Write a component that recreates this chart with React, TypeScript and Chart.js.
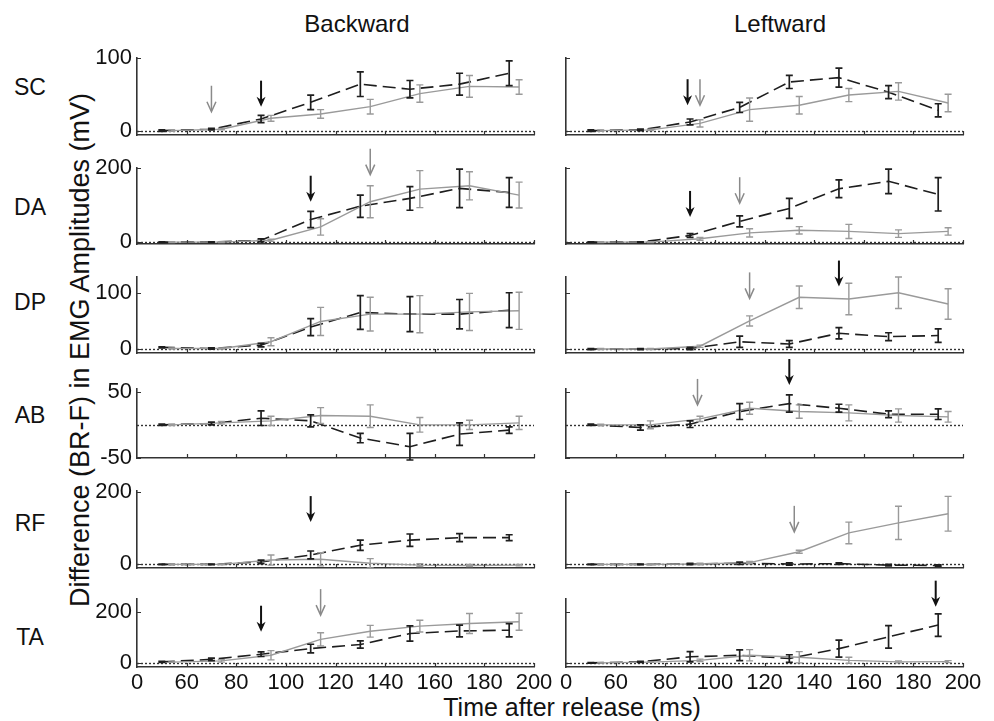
import React, { useEffect, useRef } from "react";
import { Chart, registerables } from "chart.js";

Chart.register(...registerables);

// ---------- data ----------
const blackTimes = [50, 70, 90, 110, 130, 150, 170, 190];
const grayTimes = [54, 74, 94, 114, 134, 154, 174, 194];
const xTickValues = [40, 60, 80, 100, 120, 140, 160, 180, 200];
const xTickLabels = ["0", "60", "80", "100", "120", "140", "160", "180", "200"];
const muscleLabels = ["SC", "DA", "DP", "AB", "RF", "TA"];
const columnTitles = ["Backward", "Leftward"];
const yAxisTitle = "Difference (BR-F) in EMG Amplitudes (mV)";
const xAxisTitle = "Time after release (ms)";

const yMins = [-6, -5, -7, -50, -10, -16];
const yMaxs = [100, 200, 128, 54, 203, 250];
const yTickValues = [[0, 100], [0, 200], [0, 100], [-50, 50], [0, 200], [0, 200]];

// Backward column
const scBackBlack = [0, 2, 16, 39, 64, 57, 64, 79];
const scBackBlackErr = [1, 1, 5, 10, 17, 12, 15, 17];
const scBackGray = [0, 2, 17, 23, 33, 51, 61, 60];
const scBackGrayErr = [1, 1, 4, 6, 10, 12, 15, 10];
const scBackArrowBlack = [90, 33];
const scBackArrowGray = [70, 26];

const daBackBlack = [0, 0, 5, 61, 97, 118, 145, 134];
const daBackBlackErr = [1, 1, 4, 22, 30, 32, 52, 40];
const daBackGray = [0, 0, 5, 41, 109, 143, 152, 127];
const daBackGrayErr = [1, 1, 3, 22, 43, 50, 38, 35];
const daBackArrowBlack = [110, 109];
const daBackArrowGray = [134, 182];

const dpBackBlack = [3, 1, 7, 39, 65, 62, 62, 69];
const dpBackBlackErr = [1, 1, 3, 15, 30, 31, 26, 31];
const dpBackGray = [1, 1, 13, 49, 62, 62, 66, 68];
const dpBackGrayErr = [1, 1, 7, 25, 30, 33, 33, 33];

const abBackBlack = [0, 2, 10, 6, -20, -33, -14, -8];
const abBackBlackErr = [1, 2, 11, 9, 7, 20, 17, 5];
const abBackGray = [0, 3, 6, 14, 13, 0, 0, 3];
const abBackGrayErr = [1, 2, 7, 12, 17, 11, 7, 10];

const rfBackBlack = [0, 0, 7, 26, 53, 67, 74, 74];
const rfBackBlackErr = [1, 1, 5, 11, 14, 17, 11, 8];
const rfBackGray = [0, 0, 12, 14, 3, -2, -3, -2];
const rfBackGrayErr = [1, 1, 14, 18, 13, 4, 3, 2];
const rfBackArrowBlack = [110, 117];

const taBackBlack = [4, 14, 34, 56, 72, 115, 125, 128];
const taBackBlackErr = [2, 5, 9, 17, 14, 30, 23, 26];
const taBackGray = [3, 8, 30, 92, 124, 144, 154, 161];
const taBackGrayErr = [1, 5, 18, 26, 23, 23, 39, 33];
const taBackArrowBlack = [90, 122];
const taBackArrowGray = [114, 187];

// Leftward column
const scLeftBlack = [0, 1, 12, 32, 67, 73, 53, 28];
const scLeftBlackErr = [1, 1, 4, 7, 9, 13, 9, 9];
const scLeftGray = [0, 1, 10, 29, 35, 49, 54, 38];
const scLeftGrayErr = [1, 1, 5, 16, 12, 9, 12, 12];
const scLeftArrowBlack = [89, 35];
const scLeftArrowGray = [94, 35];

const daLeftBlack = [0, 0, 18, 56, 91, 144, 164, 129];
const daLeftBlackErr = [1, 1, 5, 15, 27, 24, 33, 45];
const daLeftGray = [0, 0, 9, 25, 32, 29, 23, 29];
const daLeftGrayErr = [1, 1, 4, 11, 10, 19, 10, 10];
const daLeftArrowBlack = [90, 68];
const daLeftArrowGray = [110, 105];

const dpLeftBlack = [0, 0, 1, 13, 9, 28, 22, 24];
const dpLeftBlackErr = [1, 1, 2, 10, 6, 10, 7, 12];
const dpLeftGray = [0, 0, 5, 50, 92, 89, 100, 80];
const dpLeftGrayErr = [1, 1, 2, 9, 20, 28, 28, 27];
const dpLeftArrowBlack = [150, 111];
const dpLeftArrowGray = [114, 90];

const abLeftBlack = [0, -4, 1, 20, 32, 25, 16, 16];
const abLeftBlackErr = [1, 4, 5, 12, 13, 6, 5, 8];
const abLeftGray = [0, 0, 9, 25, 20, 18, 14, 12];
const abLeftGrayErr = [1, 6, 4, 9, 10, 12, 10, 8];
const abLeftArrowBlack = [130, 60];
const abLeftArrowGray = [93, 30];

const rfLeftBlack = [0, 0, 1, 3, 1, 2, -2, -3];
const rfLeftBlackErr = [1, 1, 2, 3, 3, 2, 2, 2];
const rfLeftGray = [0, 0, 1, 5, 35, 87, 115, 140];
const rfLeftGrayErr = [1, 1, 2, 3, 4, 30, 46, 48];
const rfLeftArrowGray = [132, 90];

const taLeftBlack = [0, 4, 24, 30, 17, 56, 102, 148];
const taLeftBlackErr = [1, 2, 20, 21, 15, 33, 44, 44];
const taLeftGray = [0, 3, 10, 30, 22, 10, 4, 5];
const taLeftGrayErr = [1, 1, 5, 22, 22, 12, 4, 4];
const taLeftArrowBlack = [189, 220];

// ---------- layout & style ----------
const FONT = '"Liberation Sans", Arial, Helvetica, sans-serif';
const PLOT_LEFT = [137, 566];
const PLOT_WIDTH = 397;
const PLOT_TOP = [58, 168, 277, 389, 491, 599];
const PLOT_BOTTOM = [135, 244, 353, 458, 568, 667];
const PADL = 60;
const PADR = 26;
const PADT = 44;
const PADB = 40;
const BLACK = "#1e1e1e";
const GRAY = "#9a9a9a";
const AXIS = "#333333";
const ARROW_LEN = 26;

type PanelDef = {
  col: number;
  row: number;
  black: number[];
  blackErr: number[];
  gray: number[];
  grayErr: number[];
  arrowBlack: number[] | null;
  arrowGray: number[] | null;
};

const panels: PanelDef[] = [
  { col: 0, row: 0, black: scBackBlack, blackErr: scBackBlackErr, gray: scBackGray, grayErr: scBackGrayErr, arrowBlack: scBackArrowBlack, arrowGray: scBackArrowGray },
  { col: 0, row: 1, black: daBackBlack, blackErr: daBackBlackErr, gray: daBackGray, grayErr: daBackGrayErr, arrowBlack: daBackArrowBlack, arrowGray: daBackArrowGray },
  { col: 0, row: 2, black: dpBackBlack, blackErr: dpBackBlackErr, gray: dpBackGray, grayErr: dpBackGrayErr, arrowBlack: null, arrowGray: null },
  { col: 0, row: 3, black: abBackBlack, blackErr: abBackBlackErr, gray: abBackGray, grayErr: abBackGrayErr, arrowBlack: null, arrowGray: null },
  { col: 0, row: 4, black: rfBackBlack, blackErr: rfBackBlackErr, gray: rfBackGray, grayErr: rfBackGrayErr, arrowBlack: rfBackArrowBlack, arrowGray: null },
  { col: 0, row: 5, black: taBackBlack, blackErr: taBackBlackErr, gray: taBackGray, grayErr: taBackGrayErr, arrowBlack: taBackArrowBlack, arrowGray: taBackArrowGray },
  { col: 1, row: 0, black: scLeftBlack, blackErr: scLeftBlackErr, gray: scLeftGray, grayErr: scLeftGrayErr, arrowBlack: scLeftArrowBlack, arrowGray: scLeftArrowGray },
  { col: 1, row: 1, black: daLeftBlack, blackErr: daLeftBlackErr, gray: daLeftGray, grayErr: daLeftGrayErr, arrowBlack: daLeftArrowBlack, arrowGray: daLeftArrowGray },
  { col: 1, row: 2, black: dpLeftBlack, blackErr: dpLeftBlackErr, gray: dpLeftGray, grayErr: dpLeftGrayErr, arrowBlack: dpLeftArrowBlack, arrowGray: dpLeftArrowGray },
  { col: 1, row: 3, black: abLeftBlack, blackErr: abLeftBlackErr, gray: abLeftGray, grayErr: abLeftGrayErr, arrowBlack: abLeftArrowBlack, arrowGray: abLeftArrowGray },
  { col: 1, row: 4, black: rfLeftBlack, blackErr: rfLeftBlackErr, gray: rfLeftGray, grayErr: rfLeftGrayErr, arrowBlack: null, arrowGray: rfLeftArrowGray },
  { col: 1, row: 5, black: taLeftBlack, blackErr: taLeftBlackErr, gray: taLeftGray, grayErr: taLeftGrayErr, arrowBlack: taLeftArrowBlack, arrowGray: null },
];

const decorPlugin = {
  id: "decor",
  beforeDatasetsDraw(chart: any) {
    const { ctx, chartArea, scales } = chart;
    const y = scales.y;
    const y0 = Math.round(y.getPixelForValue(0)) + 0.5;
    ctx.save();
    ctx.setLineDash([2, 2]);
    ctx.strokeStyle = "#333";
    ctx.lineWidth = 1.4;
    ctx.beginPath();
    ctx.moveTo(chartArea.left, y0);
    ctx.lineTo(chartArea.right, y0);
    ctx.stroke();
    ctx.restore();
  },
  afterDatasetsDraw(chart: any) {
    const { ctx, chartArea, scales } = chart;
    const x = scales.x;
    const y = scales.y;
    const cfg = chart.options.plugins.decor;
    ctx.save();
    ctx.setLineDash([]);
    // error bars
    chart.data.datasets.forEach((ds: any) => {
      ctx.strokeStyle = ds.borderColor;
      ctx.lineWidth = ds.errWidth;
      ds.data.forEach((pt: any, j: number) => {
        const e = ds.errors[j];
        const px = x.getPixelForValue(pt.x);
        const top = y.getPixelForValue(pt.y + e);
        const bot = y.getPixelForValue(pt.y - e);
        ctx.beginPath();
        ctx.moveTo(px, top);
        ctx.lineTo(px, bot);
        ctx.moveTo(px - 3.5, top);
        ctx.lineTo(px + 3.5, top);
        ctx.moveTo(px - 3.5, bot);
        ctx.lineTo(px + 3.5, bot);
        ctx.stroke();
      });
    });
    // inward tick marks
    ctx.strokeStyle = AXIS;
    ctx.lineWidth = 1.2;
    ctx.beginPath();
    xTickValues.forEach((v) => {
      if (v === 40) return;
      const px = Math.round(x.getPixelForValue(v)) + 0.5;
      ctx.moveTo(px, chartArea.bottom);
      ctx.lineTo(px, chartArea.bottom - 4);
    });
    cfg.yTicks.forEach((v: number) => {
      const py = Math.round(y.getPixelForValue(v)) + 0.5;
      ctx.moveTo(chartArea.left, py);
      ctx.lineTo(chartArea.left + 4, py);
    });
    ctx.stroke();
    // arrows
    const drawArrow = (a: number[] | null, color: string, filled: boolean) => {
      if (!a) return;
      const px = x.getPixelForValue(a[0]);
      const tip = y.getPixelForValue(a[1]);
      ctx.strokeStyle = color;
      ctx.fillStyle = color;
      ctx.lineWidth = filled ? 2 : 1.5;
      ctx.beginPath();
      ctx.moveTo(px, tip - ARROW_LEN);
      ctx.lineTo(px, tip - (filled ? 6 : 1));
      ctx.stroke();
      if (filled) {
        ctx.beginPath();
        ctx.moveTo(px - 4.5, tip - 10);
        ctx.lineTo(px, tip);
        ctx.lineTo(px + 4.5, tip - 10);
        ctx.lineTo(px, tip - 7);
        ctx.closePath();
        ctx.fill();
      } else {
        ctx.beginPath();
        ctx.moveTo(px - 4.5, tip - 10);
        ctx.lineTo(px, tip);
        ctx.lineTo(px + 4.5, tip - 10);
        ctx.stroke();
      }
    };
    drawArrow(cfg.arrowGray, "#8a8a8a", false);
    drawArrow(cfg.arrowBlack, "#111", true);
    ctx.restore();
  },
};

function PanelChart({ p }: { p: PanelDef }) {
  const ref = useRef<HTMLCanvasElement | null>(null);
  const r = p.row;
  const c = p.col;
  const plotH = PLOT_BOTTOM[r] - PLOT_TOP[r];
  const W = PLOT_WIDTH + PADL + PADR;
  const H = plotH + PADT + PADB;
  const isBottom = r === 5;
  const isLeft = c === 0;

  useEffect(() => {
    const canvas = ref.current;
    if (!canvas) return;
    const chart = new Chart(canvas, {
      type: "line",
      data: {
        datasets: [
          {
            data: grayTimes.map((t, i) => ({ x: t, y: p.gray[i] })),
            borderColor: GRAY,
            borderWidth: 1.4,
            pointRadius: 0,
            clip: false,
            errors: p.grayErr,
            errWidth: 1.4,
          } as any,
          {
            data: blackTimes.map((t, i) => ({ x: t, y: p.black[i] })),
            borderColor: BLACK,
            borderWidth: 1.6,
            borderDash: [13, 6],
            pointRadius: 0,
            clip: false,
            errors: p.blackErr,
            errWidth: 1.7,
          } as any,
        ],
      },
      options: {
        animation: false,
        responsive: false,
        maintainAspectRatio: false,
        layout: { padding: { left: 0, right: PADR, top: PADT, bottom: 0 } },
        plugins: {
          legend: { display: false },
          tooltip: { enabled: false },
          decor: { yTicks: yTickValues[r], arrowBlack: p.arrowBlack, arrowGray: p.arrowGray },
        } as any,
        scales: {
          x: {
            type: "linear",
            min: 40,
            max: 200,
            afterBuildTicks: (s: any) => {
              s.ticks = xTickValues.map((v) => ({ value: v }));
            },
            afterFit: (s: any) => {
              s.height = PADB;
            },
            ticks: {
              display: isBottom,
              autoSkip: false,
              maxRotation: 0,
              padding: 3,
              color: "#111",
              font: { family: FONT, size: 22 },
              callback: (v: any) => {
                const i = xTickValues.indexOf(Number(v));
                return i >= 0 ? xTickLabels[i] : "";
              },
            },
            grid: { display: true, drawOnChartArea: false, drawTicks: false },
            border: { display: true, color: AXIS, width: 1.6 },
          },
          y: {
            type: "linear",
            min: yMins[r],
            max: yMaxs[r],
            afterBuildTicks: (s: any) => {
              s.ticks = yTickValues[r].map((v) => ({ value: v }));
            },
            afterFit: (s: any) => {
              s.width = PADL;
            },
            ticks: {
              display: isLeft,
              padding: 5,
              color: "#111",
              font: { family: FONT, size: 22 },
            },
            grid: { display: true, drawOnChartArea: false, drawTicks: false },
            border: { display: true, color: AXIS, width: 1.6 },
          },
        },
      } as any,
      plugins: [decorPlugin],
    });
    return () => chart.destroy();
  }, []);

  return (
    <canvas
      ref={ref}
      width={W}
      height={H}
      style={{
        position: "absolute",
        left: PLOT_LEFT[c] - PADL,
        top: PLOT_TOP[r] - PADT,
        width: W,
        height: H,
      }}
    />
  );
}

const ROW_LABEL_Y = [87, 207, 302, 415, 523, 637];
const TITLE_X = [357, 780];

export default function App() {
  const text: React.CSSProperties = {
    position: "absolute",
    fontFamily: FONT,
    color: "#111",
    whiteSpace: "nowrap",
    lineHeight: 1,
    transform: "translate(-50%, -50%)",
  };
  return (
    <div style={{ position: "absolute", left: 0, top: 0, width: 994, height: 721, background: "#fff", overflow: "hidden" }}>
      {columnTitles.map((t, i) => (
        <div key={t} style={{ ...text, left: TITLE_X[i], top: 24, fontSize: 24 }}>{t}</div>
      ))}
      {muscleLabels.map((m, i) => (
        <div key={m} style={{ ...text, left: 30, top: ROW_LABEL_Y[i], fontSize: 23 }}>{m}</div>
      ))}
      <div style={{ ...text, left: 80, top: 350, fontSize: 27, transform: "translate(-50%, -50%) rotate(-90deg)" }}>{yAxisTitle}</div>
      <div style={{ ...text, left: 572, top: 707, fontSize: 25 }}>{xAxisTitle}</div>
      {panels.map((p) => (
        <PanelChart key={`${p.col}-${p.row}`} p={p} />
      ))}
    </div>
  );
}
